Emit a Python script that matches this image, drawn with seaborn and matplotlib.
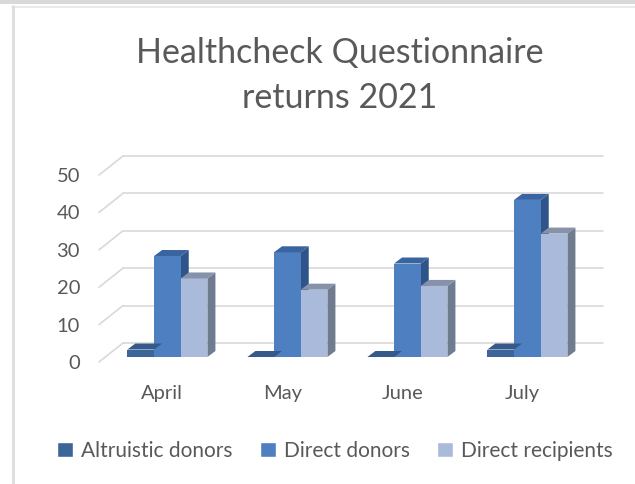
import numpy as np
import pandas as pd
import matplotlib
matplotlib.use("Agg")
import matplotlib.pyplot as plt
import matplotlib.transforms as mtransforms
from matplotlib.patches import Polygon, Rectangle
import seaborn as sns

# chart values
months = ["April", "May", "June", "July"]
series = ["Altruistic donors", "Direct donors", "Direct recipients"]
altruistic = [2, 0, 0, 2]
direct_donors = [27, 28, 25, 42]
direct_recipients = [21, 18, 19, 33]
yticks = [0, 10, 20, 30, 40, 50]

front_cols = ["#3C6598", "#4E7FC0", "#A9BADB"]
side_cols = ["#2D4E7A", "#2F5489", "#6F7B8E"]
top_cols = ["#35598A", "#3A64A0", "#8592AA"]
txt = "#595959"

df = pd.DataFrame({
    "month": months * 3,
    "series": np.repeat(series, len(months)),
    "value": altruistic + direct_donors + direct_recipients,
})

sns.set_theme(style="white")
plt.rcParams["font.family"] = ["Lato", "DejaVu Sans"]

fig = plt.figure(figsize=(6.35, 4.84), dpi=100)
ax = fig.add_axes([105 / 635, (484 - 357) / 484, 480 / 635, 187 / 484])

sns.barplot(data=df, x="month", y="value", hue="series", palette=front_cols,
            width=0.667, saturation=1, ax=ax, legend=False, zorder=3, linewidth=0)
ax.set_xlim(-0.52, 3.48)
ax.set_ylim(0, 50)
ax.set_xlabel("")
ax.set_ylabel("")
for s in ax.spines.values():
    s.set_visible(False)

px = fig.dpi_scale_trans
def shift(dx, dy):
    return ax.transData + mtransforms.ScaledTranslation(dx / 100, dy / 100, px)

# back wall gridlines and the slanted floor/side edges
wall_dx, wall_dy = 18, 14
for v in yticks:
    ax.plot([-0.52, 3.48], [v, v], color="#D9D9D9", lw=1.2,
            transform=shift(wall_dx, wall_dy), clip_on=False, zorder=1)
for v in yticks:
    p0 = ax.transData.transform((-0.52, v)) + np.array([-6, -5])
    p1 = ax.transData.transform((-0.52, v)) + np.array([wall_dx, wall_dy])
    inv = ax.transData.inverted()
    a, b = inv.transform(p0), inv.transform(p1)
    ax.plot([a[0], b[0]], [a[1], b[1]], color="#D9D9D9", lw=1.2, clip_on=False, zorder=1)

# depth faces for each bar
bdx, bdy = 8, 6
for i, bar in enumerate(ax.patches):
    k = i // len(months)
    x0, w, h = bar.get_x(), bar.get_width(), bar.get_height()
    p_tl = ax.transData.transform((x0, h))
    p_tr = ax.transData.transform((x0 + w, h))
    p_br = ax.transData.transform((x0 + w, 0))
    inv = ax.transData.inverted()
    off = np.array([bdx, bdy])
    top = [p_tl, p_tr, p_tr + off, p_tl + off]
    side = [p_br, p_tr, p_tr + off, p_br + off]
    ax.add_patch(Polygon([inv.transform(q) for q in side], closed=True,
                         facecolor=side_cols[k], edgecolor="none", zorder=2.5, clip_on=False))
    ax.add_patch(Polygon([inv.transform(q) for q in top], closed=True,
                         facecolor=top_cols[k], edgecolor="none", zorder=3.5, clip_on=False))

ax.set_yticks(yticks)
ax.set_yticklabels([str(v) for v in yticks])
ax.tick_params(axis="y", length=0, pad=18, labelsize=14.5, labelcolor=txt)
ax.tick_params(axis="x", length=0, pad=20, labelsize=14.5, labelcolor=txt)
for lab in ax.get_yticklabels():
    lab.set_transform(lab.get_transform() + mtransforms.ScaledTranslation(0, -5 / 100, px))
for lab in ax.get_xticklabels():
    lab.set_transform(lab.get_transform() + mtransforms.ScaledTranslation(-5 / 100, 0, px))

fig.text(340 / 635, 1 - 53 / 484, "Healthcheck Questionnaire", ha="center", va="center",
         fontsize=24.5, color=txt)
fig.text(340 / 635, 1 - 98 / 484, "returns 2021", ha="center", va="center",
         fontsize=24.5, color=txt)

handles = [Rectangle((0, 0), 1, 1, facecolor=c) for c in front_cols]
fig.legend(handles, series, loc="center", bbox_to_anchor=(335 / 635, 1 - 451 / 484),
           ncol=3, frameon=False, fontsize=15, labelcolor=txt, handlelength=0.75,
           handleheight=0.75, handletextpad=0.4, columnspacing=1.3)

# chart border remnants
fig.add_artist(Rectangle((0, 1 - 4 / 484), 1, 4 / 484, transform=fig.transFigure,
                         facecolor="#D9D9D9", edgecolor="none"))
fig.add_artist(plt.Line2D([0.019, 1], [1 - 6.5 / 484] * 2, color="#E6E6E6", lw=1.2))
fig.add_artist(plt.Line2D([12.5 / 635] * 2, [0, 1 - 6 / 484], color="#DDDDDD", lw=2))

fig.savefig("out.png", dpi=100)
